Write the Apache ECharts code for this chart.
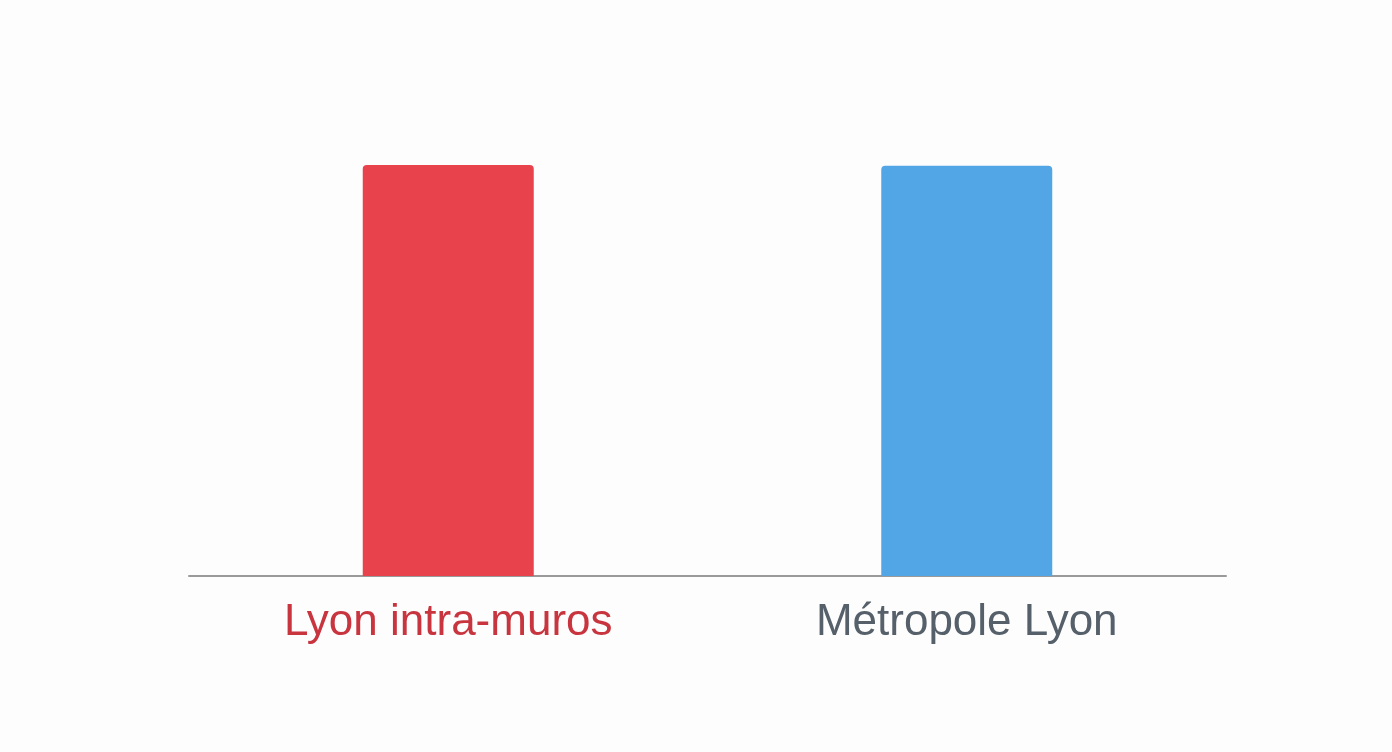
<!DOCTYPE html>
<html>
<head>
<meta charset="utf-8">
<script src="https://cdn.jsdelivr.net/npm/echarts@6/dist/echarts.min.js"></script>
<style>
html,body{margin:0;padding:0;background:#fdfdfd;}
#chart{width:1392px;height:752px;}
</style>
</head>
<body>
<div id="chart"></div>
<script>
const categories = ['Lyon intra-muros', 'Métropole Lyon'];
const values = [100, 99.8];
const barColors = ['#e8434c', '#53a6e5'];
const labelColors = ['#c8353f', '#56606a'];

const chart = echarts.init(document.getElementById('chart'));
chart.setOption({
  backgroundColor: '#fdfdfd',
  animation: false,
  grid: { left: 189, right: 166, top: 165, bottom: 176 },
  xAxis: {
    type: 'category',
    data: categories,
    axisLine: { show: true, lineStyle: { color: '#9a9a9a', width: 2 } },
    axisTick: { show: false },
    axisLabel: {
      margin: 25,
      fontSize: 44,
      fontFamily: 'Liberation Sans, Arial, sans-serif',
      color: function (v, i) { return labelColors[i]; }
    }
  },
  yAxis: {
    type: 'value',
    min: 0,
    max: 100,
    show: false,
    splitLine: { show: false }
  },
  series: [{
    type: 'bar',
    barWidth: 171,
    data: values.map((v, i) => ({ value: v, itemStyle: { color: barColors[i], borderRadius: [4, 4, 0, 0] } })),
    z: 1
  }]
});
</script>
</body>
</html>
